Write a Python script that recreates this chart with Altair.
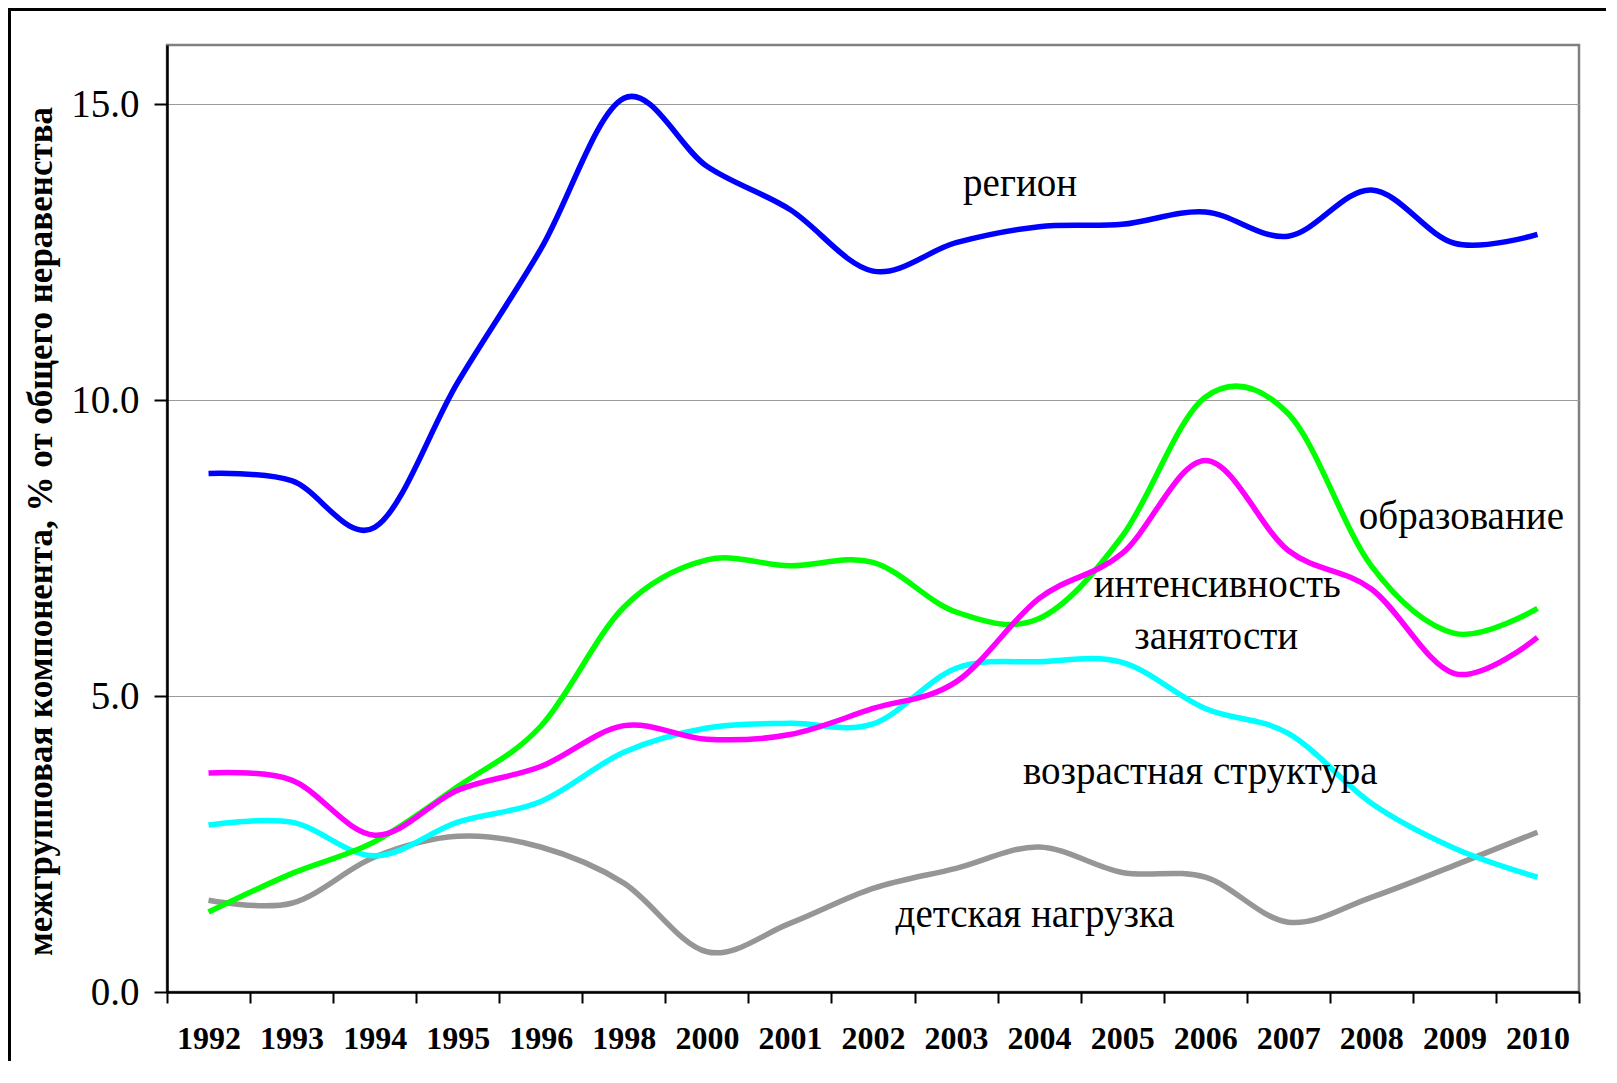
import altair as alt
import pandas as pd

# ---- data ----
years = ["1992", "1993", "1994", "1995", "1996", "1998", "2000", "2001", "2002",
         "2003", "2004", "2005", "2006", "2007", "2008", "2009", "2010"]

region = [8.76, 8.64, 7.85, 10.3, 12.55, 15.1, 13.95, 13.22, 12.18,
          12.66, 12.93, 12.97, 13.18, 12.77, 13.55, 12.65, 12.8]
education = [1.35, 2.0, 2.54, 3.47, 4.49, 6.5, 7.3, 7.2, 7.26,
             6.42, 6.31, 7.7, 10.05, 9.77, 7.2, 6.06, 6.48]
employment = [3.7, 3.58, 2.65, 3.41, 3.81, 4.5, 4.27, 4.35, 4.79,
              5.24, 6.65, 7.41, 8.98, 7.46, 6.81, 5.38, 5.99]
age_structure = [2.82, 2.87, 2.3, 2.87, 3.22, 4.05, 4.46, 4.54, 4.53,
                 5.47, 5.58, 5.57, 4.79, 4.37, 3.19, 2.43, 1.94]
child_load = [1.55, 1.5, 2.28, 2.63, 2.45, 1.84, 0.68, 1.16, 1.75,
              2.09, 2.45, 2.02, 1.94, 1.18, 1.6, 2.14, 2.7]

y_ticks = [0, 5, 10, 15]
y_title = "межгрупповая компонента, % от общего неравенства"

ann_labels = ["регион", "образование", "интенсивность", "занятости",
              "возрастная структура", "детская нагрузка"]
ann_years = ["2004", "2009", "2006", "2006", "2006", "2004"]
ann_values = [13.45, 7.83, 6.67, 5.8, 3.52, 1.1]

# ---- styling ----
FONT = "Liberation Serif"
W, H = 1412, 947
PAD = {"left": 159, "top": 37, "right": 28, "bottom": 70}
ann_dx = [-19, 7, 12, 11, -5, -4]

series = [  # drawn bottom to top
    ("детская нагрузка", child_load, "#969696"),
    ("возрастная структура", age_structure, "#00FFFF"),
    ("образование", education, "#00FF00"),
    ("интенсивность занятости", employment, "#FF00FF"),
    ("регион", region, "#0000FF"),
]

x_enc = alt.X(
    "year:N",
    sort=years,
    bandPosition=0.5,
    scale=alt.Scale(type="band", domain=years, paddingInner=0, paddingOuter=0),
    axis=alt.Axis(
        title=None,
        labelAngle=0,
        labelFont=FONT,
        labelFontSize=32,
        labelFontWeight="bold",
        labelColor="black",
        labelBaseline="alphabetic",
        labelPadding=45,
        tickBand="extent",
        tickColor="black",
        tickWidth=2,
        tickSize=11,
        domainColor="black",
        domainWidth=2.5,
        grid=False,
    ),
)

y_enc = alt.Y(
    "value:Q",
    scale=alt.Scale(domain=[0, 16], nice=False, zero=True),
    axis=alt.Axis(
        values=y_ticks,
        format=".1f",
        title=y_title,
        titleFont=FONT,
        titleFontSize=35,
        titleFontWeight="bold",
        titleColor="black",
        titleAngle=270,
        titleX=-116,
        titleY=486,
        titleAlign="center",
        titleBaseline="alphabetic",
        labelFont=FONT,
        labelFontSize=39,
        labelColor="black",
        labelPadding=15,
        tickColor="black",
        tickWidth=2,
        tickSize=13,
        domainColor="black",
        domainWidth=2.5,
        grid=True,
        gridColor="#9a9a9a",
        gridWidth=1.2,
    ),
)

# outer frame of the original figure: its left and top edges, as thin filled bars
frame_df = pd.DataFrame({"k": [0]})
layers = [
    alt.Chart(frame_df)
    .mark_rect(color="black", strokeWidth=0)
    .encode(
        x=alt.value(-PAD["left"]),
        x2=alt.value(-PAD["left"] + 3),
        y=alt.value(-PAD["top"]),
        y2=alt.value(H + PAD["bottom"] - 1),
    ),
    alt.Chart(frame_df)
    .mark_rect(color="black", strokeWidth=0)
    .encode(
        x=alt.value(-PAD["left"]),
        x2=alt.value(W + PAD["right"] - 1),
        y=alt.value(-PAD["top"]),
        y2=alt.value(-PAD["top"] + 3),
    ),
]

for name, vals, color in series:
    d = pd.DataFrame({"year": years, "value": vals, "series": name})
    layers.append(
        alt.Chart(d)
        .mark_line(color=color, strokeWidth=5.5, interpolate="cardinal")
        .encode(x=x_enc, y=y_enc)
    )

for lab, yr, v, dx in zip(ann_labels, ann_years, ann_values, ann_dx):
    d = pd.DataFrame({"year": [yr], "value": [v], "label": [lab]})
    layers.append(
        alt.Chart(d)
        .mark_text(font=FONT, fontSize=39, color="black", align="center",
                   baseline="alphabetic", dx=dx)
        .encode(x=alt.X("year:N", sort=years, bandPosition=0.5),
                y=alt.Y("value:Q"), text="label:N")
    )

chart = (
    alt.layer(*layers)
    .properties(
        width=W,
        height=H,
        autosize=alt.AutoSizeParams(type="none"),
        padding=PAD,
        background="white",
    )
    .configure_view(stroke="#808080", strokeWidth=2.5)
)

chart.save("out.html", embed_options={"renderer": "svg", "actions": False})
